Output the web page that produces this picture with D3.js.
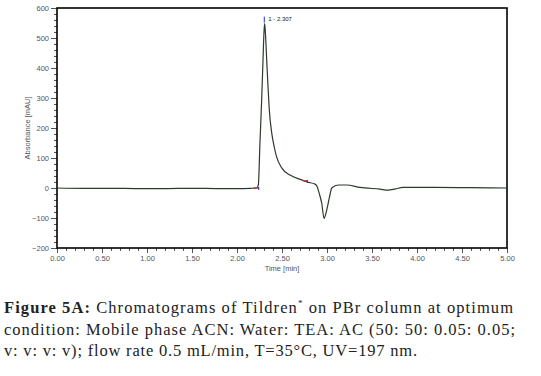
<!DOCTYPE html>
<html lang="en">
<head>
<meta charset="utf-8">
<script src="https://d3js.org/d3.v7.min.js"></script>
<style>
  body { margin: 0; background: #fff; }
  svg text { font-family: "Liberation Sans", Arial, sans-serif; }
  svg .caption text { font-family: "Liberation Serif", "DejaVu Serif", serif; fill: #222; }
</style>
</head>
<body>
<script>
// chromatogram trace: time [min], absorbance [mAU]
const timeMin = [0.00, 0.30, 0.60, 0.90, 1.20, 1.50, 1.80, 2.00, 2.15, 2.219, 2.237, 2.255, 2.274, 2.289, 2.300, 2.307,
  2.315, 2.330, 2.345, 2.359, 2.386, 2.415, 2.441, 2.497, 2.589, 2.719, 2.778, 2.867, 2.890, 2.903, 2.925, 2.941,
  2.967, 2.990, 3.014, 3.035, 3.052, 3.126, 3.219, 3.367, 3.589, 3.678, 3.760, 3.844, 4.200, 4.600, 5.00];
const absorb = [0, -1, -1, -2, -2, -1, -2, -2, -1, 0, 10, 150, 293, 427, 520, 548,
  520, 427, 335, 260, 183, 135, 103, 67, 43, 27, 20, 13, 5, -7, -30, -50,
  -101, -82, -50, -20, 0, 10, 10, 2, -4, -7, -3, 2, 2, 1, 0];

const xTicks = [0, 0.5, 1, 1.5, 2, 2.5, 3, 3.5, 4, 4.5, 5];
const yTicks = [-200, -100, 0, 100, 200, 300, 400, 500, 600];

// integration marks
const peakName = "1 - 2.307";
const peakTime = 2.303;
const peakTop = 548;
const startMarks = [2.219, 2.760];
const startValues = [0, 24];

const captionLines = [
  "Chromatograms of Tildren",
  "condition: Mobile phase ACN: Water: TEA: AC (50: 50: 0.05: 0.05;",
  "v: v: v: v); flow rate 0.5 mL/min, T=35°C, UV=197 nm."
];

const width = 541, height = 376;
const plot = { left: 57, right: 507, top: 8, bottom: 248 };

const svg = d3.select("body").append("svg")
  .attr("width", width).attr("height", height);

const x = d3.scaleLinear().domain([0, 5]).range([plot.left, plot.right]);
const y = d3.scaleLinear().domain([-200, 600]).range([plot.bottom, plot.top]);

// minor ticks
svg.append("g")
  .attr("transform", `translate(0,${plot.bottom})`)
  .call(d3.axisBottom(x).tickValues(d3.range(0, 5.001, 0.1)).tickSize(3).tickFormat(""))
  .call(g => g.select(".domain").remove())
  .attr("color", "#555");
svg.append("g")
  .attr("transform", `translate(${plot.left},0)`)
  .call(d3.axisLeft(y).tickValues(d3.range(-200, 601, 20)).tickSize(3).tickFormat(""))
  .call(g => g.select(".domain").remove())
  .attr("color", "#555");

// major ticks + labels
const xAxis = svg.append("g")
  .attr("transform", `translate(0,${plot.bottom})`)
  .call(d3.axisBottom(x).tickValues(xTicks).tickSize(5).tickPadding(3).tickFormat(d3.format(".2f")));
xAxis.select(".domain").remove();
xAxis.selectAll("line").attr("stroke", "#555");
xAxis.selectAll("text").attr("font-size", 7.5).attr("fill", "#555");

const yAxis = svg.append("g")
  .attr("transform", `translate(${plot.left},0)`)
  .call(d3.axisLeft(y).tickValues(yTicks).tickSize(6).tickPadding(2));
yAxis.select(".domain").remove();
yAxis.selectAll("line").attr("stroke", "#555");
yAxis.selectAll("text").attr("font-size", 7.5).attr("fill", "#555");

// frame
svg.append("rect")
  .attr("x", plot.left).attr("y", plot.top)
  .attr("width", plot.right - plot.left).attr("height", plot.bottom - plot.top)
  .attr("fill", "none").attr("stroke", "#000").attr("stroke-width", 1.6);

// axis titles
svg.append("text")
  .attr("x", (plot.left + plot.right) / 2).attr("y", 271)
  .attr("text-anchor", "middle").attr("font-size", 7.5).attr("fill", "#555")
  .text("Time [min]");
svg.append("text")
  .attr("transform", `translate(30,${(plot.top + plot.bottom) / 2}) rotate(-90)`)
  .attr("text-anchor", "middle").attr("font-size", 7.5).attr("fill", "#555")
  .text("Absorbance [mAU]");

// trace
const data = timeMin.map((t, i) => ({ t: t, v: absorb[i] }));
svg.append("path")
  .datum(data)
  .attr("fill", "none")
  .attr("stroke", "#2d3a2d")
  .attr("stroke-width", 1.2)
  .attr("d", d3.line().curve(d3.curveMonotoneX).x(d => x(d.t)).y(d => y(d.v)));

// integration marks
startMarks.forEach((t, i) => {
  svg.append("line")
    .attr("x1", x(t) - 3).attr("x2", x(t) + 2)
    .attr("y1", y(startValues[i])).attr("y2", y(startValues[i]))
    .attr("stroke", "#e02020").attr("stroke-width", 1.2);
  svg.append("line")
    .attr("x1", x(t) + 2).attr("x2", x(t) + 2)
    .attr("y1", y(startValues[i]) - 1).attr("y2", y(startValues[i]) + 2)
    .attr("stroke", "#2030e0").attr("stroke-width", 1);
});
svg.append("line")
  .attr("x1", x(peakTime)).attr("x2", x(peakTime))
  .attr("y1", y(peakTop) - 7).attr("y2", y(peakTop) - 1)
  .attr("stroke", "#2030e0").attr("stroke-width", 1);
svg.append("text")
  .attr("x", x(peakTime) + 4).attr("y", y(peakTop) - 3)
  .attr("font-size", 6).attr("fill", "#222")
  .text(peakName);

// caption
const cap = svg.append("g").attr("class", "caption");
const l1 = cap.append("text").attr("x", 4).attr("y", 313).attr("font-size", 16.5)
  .attr("textLength", 509).attr("lengthAdjust", "spacing");
l1.append("tspan").attr("font-weight", "bold").text("Figure 5A: ");
l1.append("tspan").text(captionLines[0]);
l1.append("tspan").attr("font-size", 9).attr("dy", -7).text("*");
l1.append("tspan").attr("dy", 7).text(" on PBr column at optimum");
cap.append("text").attr("x", 4).attr("y", 335).attr("font-size", 16.5)
  .attr("textLength", 511).attr("lengthAdjust", "spacing")
  .text(captionLines[1]);
cap.append("text").attr("x", 4).attr("y", 356).attr("font-size", 16.5)
  .attr("textLength", 413).attr("lengthAdjust", "spacing")
  .text(captionLines[2]);
</script>
</body>
</html>
